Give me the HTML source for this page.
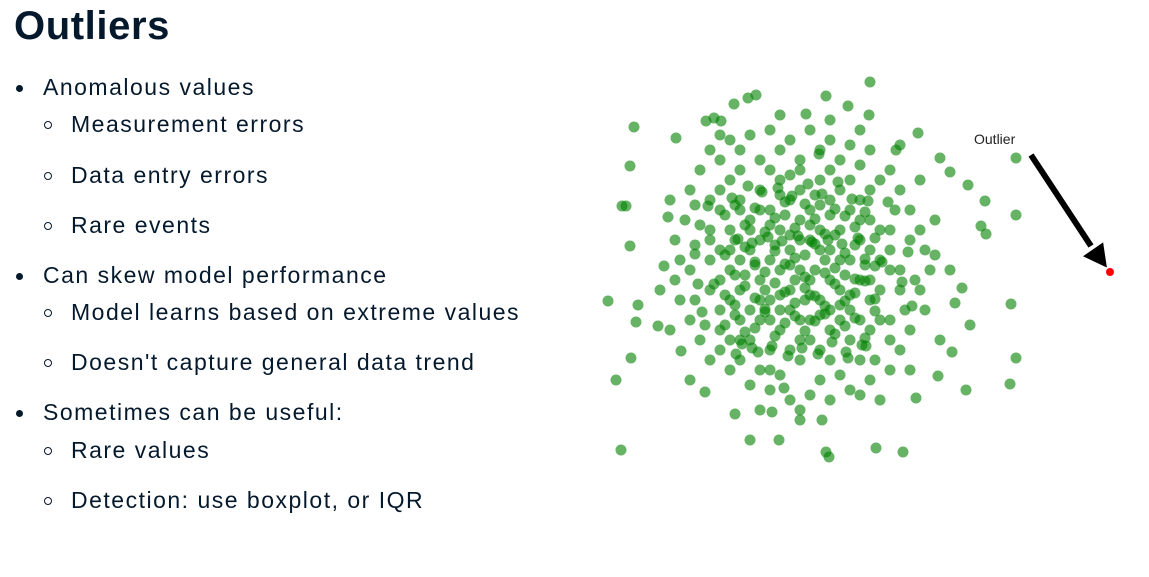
<!DOCTYPE html>
<html><head><meta charset="utf-8"><style>
body{margin:0;width:1149px;height:577px;background:#fff;overflow:hidden;font-family:"Liberation Sans",sans-serif;color:#05192d;position:relative}
h1{position:absolute;left:14px;top:4px;margin:0;font-size:40px;font-weight:bold;letter-spacing:0.6px}
.t{position:absolute;font-size:23px;letter-spacing:1.5px;white-space:nowrap}
.b1{left:43px}.b2{left:71px}
.d1:before{content:"";position:absolute;left:-27px;top:11px;width:7px;height:7px;border-radius:50%;background:#05192d}
.d2:before{content:"";position:absolute;left:-27px;top:10px;width:6px;height:6px;border-radius:50%;border:1.6px solid #05192d}
svg{position:absolute;left:0;top:0}
</style></head><body>
<h1>Outliers</h1>
<div class="t b1 d1" style="top:74px">Anomalous values</div>
<div class="t b2 d2" style="top:111px">Measurement errors</div>
<div class="t b2 d2" style="top:162px">Data entry errors</div>
<div class="t b2 d2" style="top:212px">Rare events</div>
<div class="t b1 d1" style="top:262px">Can skew model performance</div>
<div class="t b2 d2" style="top:299px">Model learns based on extreme values</div>
<div class="t b2 d2" style="top:349px">Doesn't capture general data trend</div>
<div class="t b1 d1" style="top:399px">Sometimes can be useful:</div>
<div class="t b2 d2" style="top:437px">Rare values</div>
<div class="t b2 d2" style="top:487px">Detection: use boxplot, or IQR</div>
<svg width="1149" height="577" id="chart">
<text x="974" y="144" font-size="14" fill="#222" font-family="Liberation Sans, sans-serif">Outlier</text>
<g>
<line x1="1031" y1="155" x2="1091" y2="246" stroke="#000" stroke-width="6"/>
<polygon points="1105,265 1086,256 1102,245" fill="#000" stroke="#000" stroke-width="3"/>
</g>
</svg>
<script>
const xs=[-16.6,-17,-17.8,-17.4,-17,-19.2,-16.2,-16.4,-18.4,-17.9,-16.9,-14.2,-13.2,-13.6,-12.4,-9.4,-8.6,-7.9,-6.6,-5.2,-4.4,2.6,7,4.8,6.9,0.6,11.8,9.6,14,15,16.8,18.5,18.1,18.6,21.6,21.6,21.1,21.6,21,16.6,13.8,11.6,10.3,7.6,2.6,2.9,-5,-2.1,0,2.2,-6.5,-2.8,-9.5,-11,-11.9,17,15.2,15,16.2,15.5,
-11,-10,-9,-7,-5,-3,-1,1,3,5,7,9,10,11,12,12.5,13,12,12.5,11,10,9,7,5,3,1,-1,-3,-5,-7,-9,-10,-11,-12,-12.5,-12,-12.5,-11.5,-10.5,-8,-6,-2,2,4,6,8,9.5,11,11.5,10.5,9,7.5,4,2,-2,-4,-6,-8,-9.5,-10.5,-11,-10.5,-10,-9,-7,-4,0,6,-4,8,-13,13.5,-13,14,-8,10,3,-2,12,-14,13.5,0,6,11,
-8,-7,-6,-5,-4,-3,-2,-1,0,1,2,3,4,5,6,7,8,7,6,5,4,3,2,1,0,-1,-2,-3,-4,-5,-6,-7,-8,-8,-7,-6,-5,-4,-3,-2,-1,0,1,2,3,4,5,6,7,8,9,9,8,7,6,5,4,3,2,1,0,-1,-2,-3,-4,-5,-6,-7,-8,-9,-9,-9,-8,-6,-3,0,3,5,7,9,10,10,9,6,3,0,-3,-6,-9,-1,0.5,1.5,-0.5,2.5,-2.5,3.5,-3.5,1,-1.5,4.5,-4.5,2,-2,0.5,5.5,-5.5,3,-3,6.5,-6.5,1.5,-1,4,-4,2,-2,0,0,5,-5,7,-7,3,-3,1,-1,6,-6,8,-8,2,-2,4,-4,1,-1,
-7.5,-6.5,-5.5,-4.5,-3.5,-2.5,-1.5,-0.5,0.5,1.5,2.5,3.5,4.5,5.5,6.5,7.5,-7.5,-6.5,-5.5,-4.5,-3.5,-2.5,-1.5,-0.5,0.5,1.5,2.5,3.5,4.5,5.5,6.5,7.5,-7.5,-6.5,-5.5,-4.5,-3.5,-2.5,-1.5,-0.5,0.5,1.5,2.5,3.5,4.5,5.5,6.5,7.5,-7.5,-6.5,-5.5,-4.5,-3.5,-2.5,-1.5,-0.5,0.5,1.5,2.5,3.5,4.5,5.5,6.5,7.5,-6.8,-5.2,-3.8,-2.2,-0.8,0.8,2.2,3.8,5.2,6.8,-6.2,-4.8,-3.2,-1.8,-0.2,1.2,2.8,4.2,5.8,-5.8,-4.2,-2.8,-1.2,0.2,1.8,3.2,4.8,6.2,-10.5,-9.8,10.8,11.2,-9.2,8.8,-10.2,10.2,-4.8,4.6,-1.6,1.9,-8.6,8.2,-6.4,6.6];
const ys=[14.3,10.4,6.4,6.4,2.4,-3.1,-3.5,-5.2,-11,-18,-8.8,-5.6,5.3,0.4,13.2,14.9,15.2,14.9,16.6,17.2,17.5,17.4,18.8,16.4,15.5,15.6,13.7,12,11.2,9.8,8.5,6.9,4.4,3.6,11.2,5.5,-3.4,-8.8,-11.4,-12,-10.6,-12.8,-18.2,-17.8,-18.2,-18.7,-17,-17,-15,-15,-14.4,-14.2,-12.2,-11,-8.1,-5.5,-8.2,0,-1.8,-3.3,
8,10,12,13,13.5,14,13,14,13,12.5,12,10,8,6,4,2,0,-2,-4,-6,-8,-10,-11,-12,-13,-12.5,-13,-12,-11.5,-10,-9,-7,-5,-3,-1,1,3,5,6.5,11,12,12,12,11,10.5,9,6,3,-1,-4,-7,-9,-10.5,-11,-10.5,-10,-9,-8,-5.5,-3,0,2.5,4.5,7,9,11,11,-12.5,-14,-13,-6,5,7,-7,13.5,12.5,15,15.5,9,-2,1.5,-14,14,-10,
6,4,7,5,8,6,9,7,8,6,9,7,8,6,7,5,4,2,3,1,4,2,4,3,5,2,4,1,3,2,1,0,2,-1,-3,-2,-4,-1,-3,0,-2,0,-1,-3,-1,-2,-4,-1,-3,-2,0,2,-5,-6,-5,-7,-5,-6,-8,-5,-7,-4,-6,-8,-5,-7,-5,-7,-4,-2,1,4,8,10,10,10,10,9,8,4,0,-2,-5,-9,-9,-9,-10,-7,3,0.5,1.5,0,-1,1,2.5,3.5,-2,4.5,5.5,-0.5,0.5,-4.5,-2.5,-3,2.5,-0.5,5.5,4.5,0.5,3,7.5,9.5,-3.5,-3,6.5,7.5,3,-5,-2.5,4,-1,2,-4,-5,-7,-8,5,6,1,-6,2,-4,1,6,-2.5,3.5,
5.5,6.5,4.5,6.2,3.8,5.2,6.8,4.2,6.6,5.1,3.6,6.1,5.4,4.3,5.8,3.2,1.5,-0.5,2.3,0.8,-0.2,1.9,0.6,1.2,-0.7,2.6,-0.3,0.2,1.7,-0.9,1.1,0.4,-2.5,-3.5,-1.6,-2.8,-3.9,-1.3,-2.2,-3.3,-1.8,-2.6,-3.6,-1.4,-3.1,-2.3,-1.1,-2.9,-5.5,-4.5,-6.2,-5.8,-4.2,-6.6,-5.3,-4.6,-6.1,-5.1,-4.4,-6.4,-5.6,-4.8,-6.8,-4.1,7.2,8.4,7.8,8.2,7.4,8.6,7.6,8.8,7.1,6.9,3.1,2.7,3.3,2.9,3.4,2.8,3.0,2.6,3.2,-7.4,-8.2,-7.6,-8.6,-7.8,-8.4,-7.2,-8.8,-7.5,1.6,-4.2,1.8,-3.6,6.4,6.8,-1.4,-1.2,-7.8,-8.2,-11.8,11.6,-1.4,0.8,-8.4,-7.6];
const outlierX=[31];
const outlierY=[-0.2];
const xScale=v=>800+v*10;
const yScale=v=>270-v*10;
const svg=document.getElementById('chart');
const NS='http://www.w3.org/2000/svg';
const g=document.createElementNS(NS,'g');


svg.insertBefore(g,svg.firstChild);
for(let i=0;i<xs.length;i++){
  const c=document.createElementNS(NS,'circle');
  c.setAttribute('cx',xScale(xs[i]));c.setAttribute('cy',yScale(ys[i]));
  c.setAttribute('r',5.5);c.setAttribute('fill','rgba(0,128,0,0.6)');
  
  
  g.appendChild(c);
}
for(let i=0;i<outlierX.length;i++){
  const c=document.createElementNS(NS,'circle');
  c.setAttribute('cx',xScale(outlierX[i]));c.setAttribute('cy',yScale(outlierY[i]));
  c.setAttribute('r',4);c.setAttribute('fill','#ff0000');
  
  
  svg.appendChild(c);
}
</script>
</body></html>
